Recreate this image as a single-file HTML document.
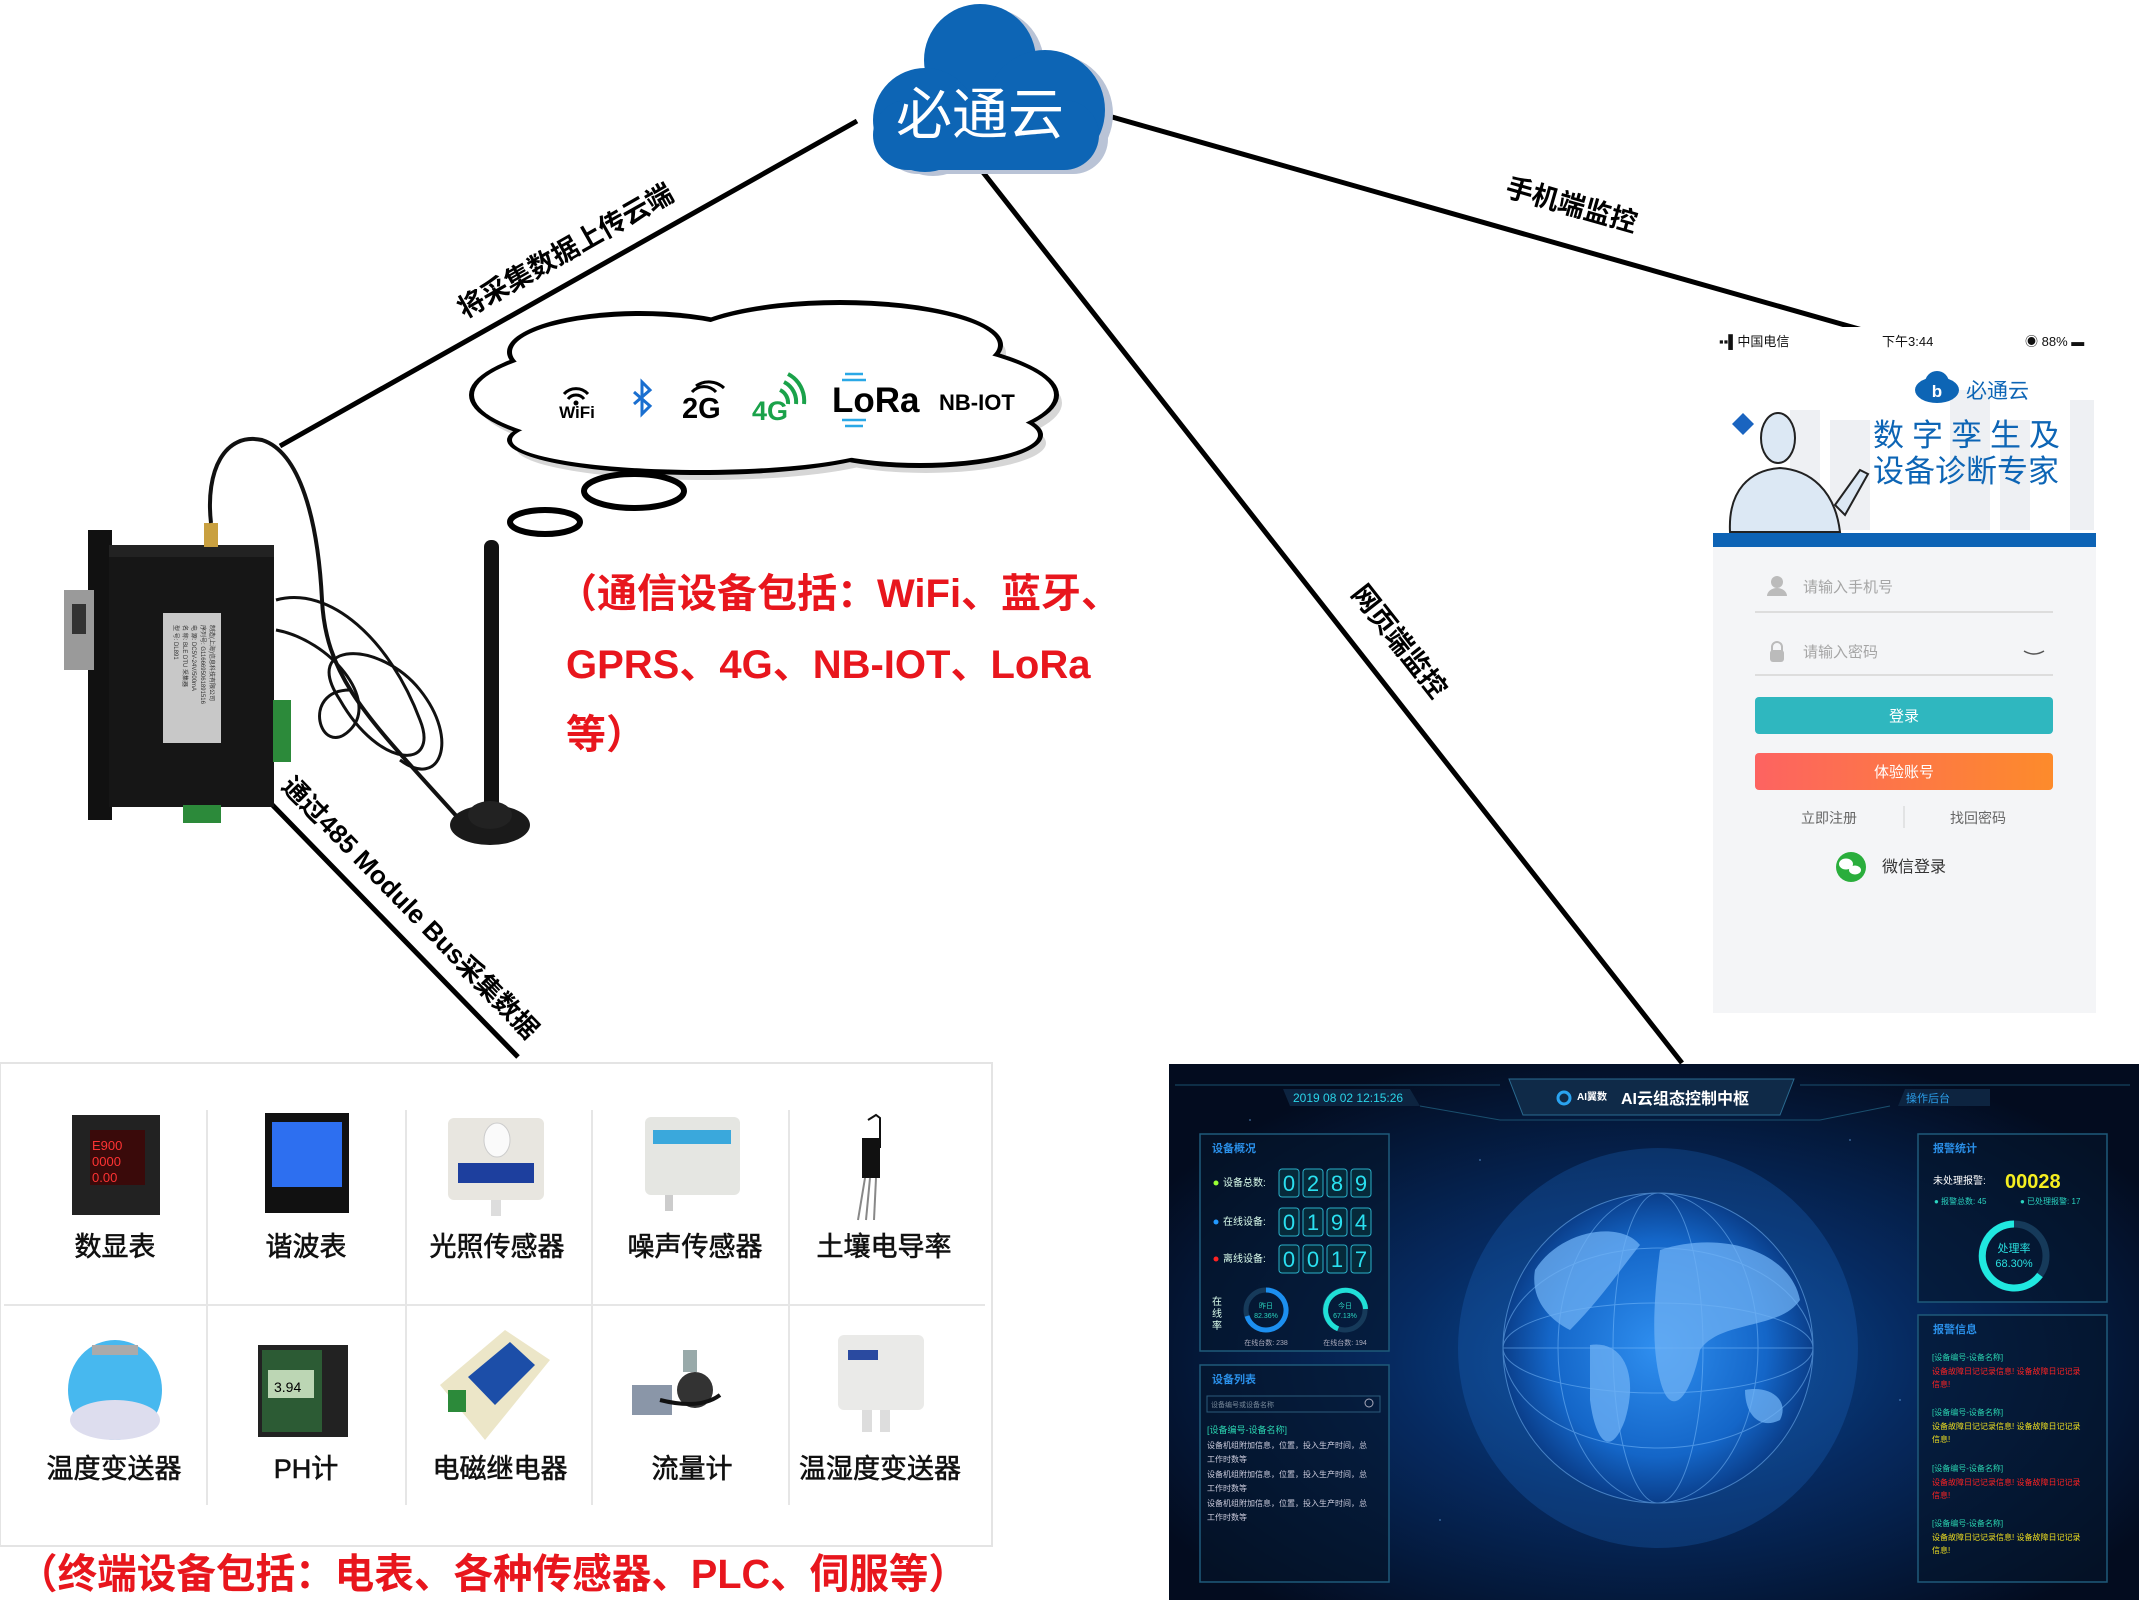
<!DOCTYPE html>
<html><head><meta charset="utf-8"><style>
html,body{margin:0;padding:0;background:#fff;}
svg{display:block;}
text{font-family:"Liberation Sans","Noto Sans CJK SC",sans-serif;}
</style></head><body>
<svg width="2139" height="1600" viewBox="0 0 2139 1600" xmlns="http://www.w3.org/2000/svg">
<defs>
<radialGradient id="glow" cx="50%" cy="55%" r="60%">
<stop offset="0" stop-color="#0a4f9e"/><stop offset="0.45" stop-color="#062a60"/><stop offset="1" stop-color="#030c1f"/>
</radialGradient>
<radialGradient id="globe" cx="50%" cy="50%" r="50%">
<stop offset="0" stop-color="#2f8ff0"/><stop offset="0.7" stop-color="#1466c8"/><stop offset="1" stop-color="#0a3e8a"/>
</radialGradient>
<linearGradient id="orange" x1="0" x2="1"><stop offset="0" stop-color="#fd6361"/><stop offset="1" stop-color="#fd8b2b"/></linearGradient>
</defs>

<g stroke="#000" stroke-width="5" fill="none">
<line x1="857" y1="121" x2="280" y2="446"/>
<line x1="1105" y1="115" x2="1873" y2="333"/>
<line x1="982" y1="171" x2="1682" y2="1063"/>
<line x1="252" y1="784" x2="518" y2="1057"/>
</g>

<g font-weight="bold" font-size="27" fill="#000">
<text transform="translate(570,259) rotate(-29.6)" text-anchor="middle">将采集数据上传云端</text>
<text transform="translate(1569,214) rotate(15.9)" text-anchor="middle">手机端监控</text>
<text transform="translate(1392,647) rotate(51.9)" text-anchor="middle">网页端监控</text>
<text transform="translate(404,914) rotate(45.7)" text-anchor="middle" font-size="26">通过485 Module Bus采集数据</text>
</g>

<g>
<g fill="#b9c3d6" transform="translate(8,4)">
<circle cx="980" cy="60" r="56"/><circle cx="925" cy="120" r="52"/><circle cx="1045" cy="110" r="60"/><rect x="875" y="100" width="225" height="70" rx="35"/>
</g>
<g fill="#0d65b5">
<circle cx="980" cy="60" r="56"/><circle cx="925" cy="120" r="52"/><circle cx="1045" cy="110" r="60"/><rect x="873" y="100" width="226" height="70" rx="35"/>
</g>
<text x="980" y="134" text-anchor="middle" font-size="56" fill="#fff">必通云</text>
</g>

<g transform="translate(6,8)" fill="#bbb" opacity="0.6">
<ellipse cx="764" cy="395" rx="292" ry="66"/><ellipse cx="640" cy="352" rx="130" ry="38"/><ellipse cx="840" cy="345" rx="160" ry="42"/><ellipse cx="700" cy="440" rx="190" ry="32"/><ellipse cx="920" cy="435" rx="120" ry="30"/>
</g>
<g fill="#000">
<ellipse cx="764" cy="395" rx="295" ry="69"/><ellipse cx="640" cy="352" rx="133" ry="41"/><ellipse cx="840" cy="345" rx="163" ry="45"/><ellipse cx="700" cy="440" rx="193" ry="35"/><ellipse cx="920" cy="435" rx="123" ry="33"/>
</g>
<g fill="#fff">
<ellipse cx="764" cy="395" rx="290" ry="64"/><ellipse cx="640" cy="352" rx="128" ry="36"/><ellipse cx="840" cy="345" rx="158" ry="40"/><ellipse cx="700" cy="440" rx="188" ry="30"/><ellipse cx="920" cy="435" rx="118" ry="28"/>
</g>
<ellipse cx="634" cy="491" rx="50" ry="17" fill="#fff" stroke="#000" stroke-width="6"/>
<ellipse cx="545" cy="522" rx="35" ry="12" fill="#fff" stroke="#000" stroke-width="6"/>

<g>
<path d="M564 394 a16 16 0 0 1 24 0 M568 399 a10 10 0 0 1 16 0" stroke="#000" stroke-width="3" fill="none"/>
<circle cx="576" cy="403" r="2.5"/>
<text x="577" y="418" text-anchor="middle" font-size="17" font-weight="bold">WiFi</text>
<path d="M634 392 L650 406 L642 414 L642 382 L650 390 L634 404" stroke="#1a6fd0" stroke-width="3" fill="none"/>
<text x="682" y="418" font-size="29" font-weight="bold">2G</text>
<path d="M692 392 a16 16 0 0 1 24 0 M696 386 a22 22 0 0 1 28 2" stroke="#000" stroke-width="3" fill="none"/>
<text x="752" y="420" font-size="27" font-weight="bold" fill="#1aa24a">4G</text>
<path d="M788 404 a14 14 0 0 0 -8 -14 M796 404 a22 22 0 0 0 -12 -22 M804 404 a30 30 0 0 0 -16 -30" stroke="#1aa24a" stroke-width="4" fill="none"/>
<text x="832" y="412" font-size="35" font-weight="bold">LoRa</text>
<path d="M845 374 h18 M842 380 h24 M842 420 h24 M845 426 h18" stroke="#2aa8e6" stroke-width="2.5"/>
<text x="939" y="410" font-size="22" font-weight="bold">NB-IOT</text>
</g>

<g fill="#e8161d" font-weight="bold" font-size="40">
<text x="557" y="607">（通信设备包括：WiFi、蓝牙、</text>
<text x="566" y="678">GPRS、4G、NB-IOT、LoRa</text>
<text x="566" y="748">等）</text>
</g>

<g>
<rect x="88" y="530" width="24" height="290" fill="#111"/>
<rect x="64" y="590" width="30" height="80" fill="#9a9a9a"/>
<rect x="72" y="604" width="14" height="30" fill="#333"/>
<rect x="109" y="552" width="165" height="255" fill="#161616"/>
<rect x="109" y="545" width="165" height="12" fill="#222"/>
<rect x="163" y="613" width="58" height="130" fill="#c8c8c8"/>
<g font-size="6" fill="#333"><text transform="translate(174,625) rotate(90)">型 号: DL891</text><text transform="translate(183,625) rotate(90)">名 称: BLE DTU 采集器</text><text transform="translate(192,625) rotate(90)">电 源: DC5V-24V/500mA</text><text transform="translate(201,625) rotate(90)">序列号: G1166695061891516</text><text transform="translate(210,625) rotate(90)">制造(上海)信息科技有限公司</text></g>
<rect x="273" y="700" width="18" height="62" fill="#2c8a3a"/>
<rect x="183" y="805" width="38" height="18" fill="#2c8a3a"/>
<rect x="204" y="523" width="14" height="24" fill="#c9a040"/>
<path d="M211 523 C205 470,225 432,262 440 C300 452,318 520,322 600 C326 680,370 720,460 820" stroke="#111" stroke-width="4" fill="none"/>
<path d="M276 600 C330 585,390 640,420 720 C440 770,380 770,340 700 C300 640,380 640,420 690 C460 740,440 790,400 760 M276 630 C330 640,380 700,350 730 C320 760,300 690,350 690" stroke="#111" stroke-width="3" fill="none"/>
<rect x="484" y="540" width="15" height="270" rx="7" fill="#111"/>
<ellipse cx="490" cy="825" rx="40" ry="20" fill="#1a1a1a"/>
<ellipse cx="490" cy="815" rx="22" ry="14" fill="#222"/>
</g>

<g>
<rect x="1713" y="327" width="383" height="686" fill="#f4f5f7"/>
<rect x="1713" y="327" width="383" height="208" fill="#fff"/>
<g fill="#eef0f3"><rect x="1790" y="410" width="30" height="120"/><rect x="1830" y="420" width="40" height="110"/><rect x="1950" y="390" width="40" height="140"/><rect x="2000" y="420" width="30" height="110"/><rect x="2070" y="400" width="24" height="130"/></g>
<rect x="1713" y="533" width="383" height="14" fill="#0d63b5"/>
<g font-size="13" fill="#111"><text x="1719" y="346">▪▪▌中国电信</text><text x="1882" y="346">下午3:44</text><text x="2025" y="346">◉ 88% ▬</text></g>
<path d="M1732 424 l11 -11 l11 11 l-11 11z" fill="#1a64c0"/>
<ellipse cx="1937" cy="390" rx="22" ry="13" fill="#0d65b5"/><circle cx="1937" cy="383" r="12" fill="#0d65b5"/>
<text x="1937" y="397" text-anchor="middle" font-size="17" font-weight="bold" fill="#fff">b</text>
<text x="1966" y="398" font-size="21" fill="#0d65b5">必通云</text>
<text x="1873" y="446" font-size="31" fill="#0d65b5" letter-spacing="8">数字孪生及</text>
<text x="1873" y="482" font-size="31" fill="#0d65b5">设备诊断专家</text>
<g fill="#dce8f4" stroke="#222" stroke-width="2">
<ellipse cx="1778" cy="438" rx="17" ry="25"/>
<path d="M1730 532 C1728 490,1750 470,1780 468 C1810 470,1835 490,1840 532 Z"/>
<path d="M1835 505 L1860 470 L1868 474 L1845 515 Z"/>
</g>
<line x1="1755" y1="612" x2="2053" y2="612" stroke="#ddd" stroke-width="2"/>
<line x1="1755" y1="675" x2="2053" y2="675" stroke="#ddd" stroke-width="2"/>
<circle cx="1777" cy="582" r="6" fill="#bbb"/><path d="M1767 596 a10 8 0 0 1 20 0z" fill="#bbb"/>
<rect x="1770" y="650" width="14" height="12" rx="3" fill="#bbb"/><path d="M1772 651 v-4 a5 5 0 0 1 10 0 v4" stroke="#bbb" stroke-width="2" fill="none"/>
<g font-size="15" fill="#a5a5a5"><text x="1803" y="592">请输入手机号</text><text x="1803" y="657">请输入密码</text></g>
<path d="M2024 651 q10 6 20 0" stroke="#555" stroke-width="1.5" fill="none"/>
<rect x="1755" y="697" width="298" height="37" rx="4" fill="#2fb7bf"/>
<text x="1904" y="721" text-anchor="middle" font-size="15" fill="#fff">登录</text>
<rect x="1755" y="753" width="298" height="37" rx="4" fill="url(#orange)"/>
<text x="1904" y="777" text-anchor="middle" font-size="15" fill="#fff">体验账号</text>
<g font-size="14" fill="#666"><text x="1829" y="823" text-anchor="middle">立即注册</text><text x="1978" y="823" text-anchor="middle">找回密码</text></g>
<line x1="1904" y1="806" x2="1904" y2="828" stroke="#ddd" stroke-width="1.5"/>
<circle cx="1851" cy="867" r="15" fill="#2aae3c"/>
<ellipse cx="1846" cy="864" rx="7" ry="5.5" fill="#fff"/><ellipse cx="1855" cy="870" rx="6" ry="4.5" fill="#fff"/>
<text x="1882" y="872" font-size="16" fill="#333">微信登录</text>
</g>

<g>
<rect x="0" y="1063" width="992" height="483" fill="#fff" stroke="#e4e4e4" stroke-width="2"/>
<g stroke="#e6e6e6" stroke-width="2"><line x1="207" y1="1110" x2="207" y2="1505"/><line x1="406" y1="1110" x2="406" y2="1505"/><line x1="592" y1="1110" x2="592" y2="1505"/><line x1="789" y1="1110" x2="789" y2="1505"/><line x1="4" y1="1305" x2="985" y2="1305"/></g>
<rect x="72" y="1115" width="88" height="100" fill="#222"/><rect x="90" y="1130" width="55" height="55" fill="#3a0a0a"/><text x="92" y="1150" font-size="13" fill="#f33">E900</text><text x="92" y="1166" font-size="13" fill="#f33">0000</text><text x="92" y="1182" font-size="13" fill="#f33">0.00</text>
<rect x="265" y="1113" width="84" height="100" fill="#111"/><rect x="272" y="1122" width="70" height="65" fill="#2d6ff0"/>
<rect x="448" y="1118" width="96" height="82" rx="6" fill="#e8e6e0"/><ellipse cx="497" cy="1140" rx="13" ry="17" fill="#fafafa" stroke="#ccc"/><rect x="458" y="1163" width="76" height="20" fill="#1d3f9e"/><rect x="491" y="1200" width="10" height="16" fill="#ddd"/>
<rect x="645" y="1117" width="95" height="78" rx="6" fill="#e5e6e2"/><rect x="653" y="1130" width="78" height="14" fill="#3aa8dc"/><rect x="665" y="1195" width="8" height="16" fill="#ccc"/>
<path d="M868 1120 l8 -5 l4 3 v30" stroke="#111" stroke-width="2" fill="none"/><rect x="862" y="1138" width="18" height="40" fill="#111"/><g stroke="#888" stroke-width="2"><line x1="865" y1="1178" x2="858" y2="1220"/><line x1="870" y1="1178" x2="866" y2="1220"/><line x1="876" y1="1178" x2="874" y2="1220"/></g>
<ellipse cx="115" cy="1390" rx="47" ry="50" fill="#47b8ef"/><ellipse cx="115" cy="1420" rx="45" ry="20" fill="#dde"/><rect x="92" y="1345" width="46" height="10" fill="#aaa"/>
<rect x="258" y="1345" width="90" height="92" fill="#222"/><rect x="262" y="1350" width="60" height="82" fill="#2c5b34"/><rect x="268" y="1370" width="46" height="28" fill="#bcd6b4"/><text x="274" y="1392" font-size="14">3.94</text>
<path d="M440 1385 L505 1330 L550 1360 L485 1440 Z" fill="#ece6c8"/><path d="M468 1377 L510 1342 L535 1365 L495 1405 Z" fill="#1c4ea8"/><rect x="448" y="1390" width="18" height="22" fill="#2c8a3a"/>
<rect x="632" y="1385" width="40" height="30" fill="#8a96a8"/><circle cx="695" cy="1390" r="18" fill="#333"/><path d="M660 1400 q40 10 60 -5" stroke="#111" stroke-width="4" fill="none"/><rect x="683" y="1350" width="14" height="22" fill="#9aa"/>
<rect x="838" y="1335" width="86" height="75" rx="6" fill="#eaeae8"/><rect x="848" y="1350" width="30" height="10" fill="#2a4aa0"/><rect x="862" y="1410" width="10" height="22" fill="#ddd"/><rect x="880" y="1410" width="10" height="22" fill="#ddd"/>
<g font-size="27" fill="#111" text-anchor="middle" stroke="#111" stroke-width="0.6">
<text x="115" y="1256">数显表</text><text x="306" y="1256">谐波表</text><text x="497" y="1256">光照传感器</text><text x="695" y="1256">噪声传感器</text><text x="884" y="1256">土壤电导率</text>
<text x="114" y="1478">温度变送器</text><text x="306" y="1478">PH计</text><text x="500" y="1478">电磁继电器</text><text x="692" y="1478">流量计</text><text x="880" y="1478">温湿度变送器</text>
</g>
<text x="18" y="1588" font-size="41" font-weight="bold" fill="#e8161d" textLength="950" lengthAdjust="spacingAndGlyphs">（终端设备包括：电表、各种传感器、PLC、伺服等）</text>
</g>

<g>
<rect x="1169" y="1064" width="970" height="536" fill="url(#glow)"/>
<g fill="#6aa8e8" opacity="0.5"><circle cx="1250" cy="1120" r="1"/><circle cx="1480" cy="1160" r="1"/><circle cx="1850" cy="1140" r="1"/><circle cx="1900" cy="1400" r="1"/><circle cx="1440" cy="1520" r="1"/><circle cx="1560" cy="1110" r="1"/></g>
<ellipse cx="1658" cy="1348" rx="200" ry="200" fill="#1e6fd0" opacity="0.25"/>
<circle cx="1658" cy="1348" r="155" fill="url(#globe)"/>
<g stroke="#7fc0ff" stroke-width="1" fill="none" opacity="0.5">
<ellipse cx="1658" cy="1348" rx="155" ry="155"/><ellipse cx="1658" cy="1348" rx="100" ry="155"/><ellipse cx="1658" cy="1348" rx="45" ry="155"/>
<ellipse cx="1658" cy="1348" rx="155" ry="100"/><ellipse cx="1658" cy="1348" rx="155" ry="45"/><line x1="1503" y1="1348" x2="1813" y2="1348"/>
</g>
<g fill="#6fb2f5" opacity="0.75">
<path d="M1535 1270 C1560 1230,1620 1220,1640 1245 C1620 1270,1600 1300,1570 1330 C1550 1320,1530 1300,1535 1270Z"/>
<path d="M1590 1345 C1620 1340,1640 1370,1625 1420 C1610 1460,1595 1440,1590 1400Z"/>
<path d="M1660 1250 C1720 1230,1790 1250,1800 1300 C1780 1330,1720 1320,1700 1350 C1690 1400,1670 1420,1660 1380 C1650 1340,1655 1290,1660 1250Z"/>
<path d="M1745 1390 C1770 1385,1790 1400,1780 1420 C1760 1430,1745 1415,1745 1390Z"/>
</g>
<path d="M1509 1079 L1794 1079 L1780 1115 L1523 1115 Z" fill="#0f2a48" stroke="#2a6a90"/>
<circle cx="1564" cy="1098" r="6" fill="none" stroke="#2aa3f0" stroke-width="3"/>
<text x="1577" y="1100" font-size="10" font-weight="bold" fill="#fff">AI翼数</text>
<text x="1621" y="1104" font-size="16" font-weight="bold" fill="#fff">AI云组态控制中枢</text>
<path d="M1283 1089 L1410 1089 L1420 1106 L1290 1106 Z" fill="#0d2440"/>
<text x="1293" y="1102" font-size="12" fill="#2ad4e8">2019 08 02   12:15:26</text>
<path d="M1905 1089 L1990 1089 L1990 1106 L1898 1106 Z" fill="#0d2440"/>
<text x="1906" y="1102" font-size="11" fill="#2a9de8">操作后台</text>
<g stroke="#1a4f6e" fill="none"><path d="M1420 1106 L1500 1120 L1820 1120 L1890 1106"/><line x1="1175" y1="1085" x2="1500" y2="1085"/><line x1="1800" y1="1085" x2="2130" y2="1085"/></g>
<g fill="#05152c" fill-opacity="0.6" stroke="#1e5a7a" stroke-width="1.5">
<rect x="1200" y="1134" width="189" height="217"/><rect x="1200" y="1365" width="189" height="217"/>
<rect x="1918" y="1134" width="189" height="168"/><rect x="1918" y="1315" width="189" height="267"/>
</g>
<g font-size="11" fill="#2a8fe8" font-weight="bold">
<text x="1212" y="1152">设备概况</text><text x="1212" y="1383">设备列表</text><text x="1933" y="1152">报警统计</text><text x="1933" y="1333">报警信息</text>
</g>
<g font-size="10" fill="#dfe">
<text x="1223" y="1186">设备总数:</text><text x="1223" y="1225">在线设备:</text><text x="1223" y="1262">离线设备:</text>
</g>
<circle cx="1216" cy="1183" r="2.5" fill="#9f3"/><circle cx="1216" cy="1222" r="2.5" fill="#29f"/><circle cx="1216" cy="1259" r="2.5" fill="#f22"/>
<g fill="#062a3a" stroke="#2ab0c8" stroke-width="1">
<rect x="1279" y="1169" width="20" height="28" rx="3"/><rect x="1303" y="1169" width="20" height="28" rx="3"/><rect x="1327" y="1169" width="20" height="28" rx="3"/><rect x="1351" y="1169" width="20" height="28" rx="3"/>
<rect x="1279" y="1208" width="20" height="28" rx="3"/><rect x="1303" y="1208" width="20" height="28" rx="3"/><rect x="1327" y="1208" width="20" height="28" rx="3"/><rect x="1351" y="1208" width="20" height="28" rx="3"/>
<rect x="1279" y="1245" width="20" height="28" rx="3"/><rect x="1303" y="1245" width="20" height="28" rx="3"/><rect x="1327" y="1245" width="20" height="28" rx="3"/><rect x="1351" y="1245" width="20" height="28" rx="3"/>
</g>
<g font-family="Liberation Mono" font-size="22" fill="#2ae0f0" text-anchor="middle">
<text x="1289" y="1191">0</text><text x="1313" y="1191">2</text><text x="1337" y="1191">8</text><text x="1361" y="1191">9</text>
<text x="1289" y="1230">0</text><text x="1313" y="1230">1</text><text x="1337" y="1230">9</text><text x="1361" y="1230">4</text>
<text x="1289" y="1267">0</text><text x="1313" y="1267">0</text><text x="1337" y="1267">1</text><text x="1361" y="1267">7</text>
</g>
<g font-size="10" fill="#dfe"><text x="1212" y="1305">在</text><text x="1212" y="1317">线</text><text x="1212" y="1329">率</text></g>
<circle cx="1266" cy="1310" r="20" fill="none" stroke="#163a5a" stroke-width="5"/>
<path d="M1266 1290 A20 20 0 1 1 1247 1316" fill="none" stroke="#1c8ff0" stroke-width="5"/>
<circle cx="1345" cy="1310" r="20" fill="none" stroke="#163a5a" stroke-width="5"/>
<path d="M1345 1290 A20 20 0 1 1 1326 1318" fill="none" stroke="#20e0d8" stroke-width="5" transform="rotate(200 1345 1310)"/>
<g font-size="7" fill="#2ad4c0" text-anchor="middle"><text x="1266" y="1308">昨日</text><text x="1266" y="1318">82.36%</text><text x="1345" y="1308">今日</text><text x="1345" y="1318">67.13%</text></g>
<g font-size="7" fill="#aab" text-anchor="middle"><text x="1266" y="1345">在线台数: 238</text><text x="1345" y="1345">在线台数: 194</text></g>
<rect x="1207" y="1396" width="173" height="16" fill="none" stroke="#2a5a7a"/>
<text x="1211" y="1407" font-size="7" fill="#789">设备编号或设备名称</text>
<circle cx="1369" cy="1403" r="4" fill="none" stroke="#aab"/>
<text x="1207" y="1433" font-size="9" fill="#2ad4b0">[设备编号-设备名称]</text>
<g font-size="8" fill="#ccd"><text x="1207" y="1448">设备机组附加信息，位置，投入生产时间，总</text><text x="1207" y="1462">工作时数等</text><text x="1207" y="1477">设备机组附加信息，位置，投入生产时间，总</text><text x="1207" y="1491">工作时数等</text><text x="1207" y="1506">设备机组附加信息，位置，投入生产时间，总</text><text x="1207" y="1520">工作时数等</text></g>
<text x="1933" y="1184" font-size="10" fill="#fff">未处理报警:</text>
<text x="2005" y="1188" font-family="Liberation Mono" font-size="20" font-weight="bold" fill="#f5ee20">00028</text>
<g font-size="8" fill="#2ad4c0"><text x="1934" y="1204">● 报警总数: 45</text><text x="2020" y="1204">● 已处理报警: 17</text></g>
<circle cx="2014" cy="1256" r="32" fill="none" stroke="#163a5a" stroke-width="7"/>
<path d="M2014 1224 A32 32 0 1 0 2040 1275" fill="none" stroke="#20e8e0" stroke-width="7"/>
<g fill="#2ae0e0" text-anchor="middle"><text x="2014" y="1252" font-size="11">处理率</text><text x="2014" y="1267" font-size="11">68.30%</text></g>
<g font-size="8">
<text x="1932" y="1360" fill="#2ad4b0">[设备编号-设备名称]</text><text x="1932" y="1374" fill="#f22">设备故障日记记录信息! 设备故障日记记录</text><text x="1932" y="1387" fill="#f22">信息!</text>
<text x="1932" y="1415" fill="#2ad4b0">[设备编号-设备名称]</text><text x="1932" y="1429" fill="#f0e020">设备故障日记记录信息! 设备故障日记记录</text><text x="1932" y="1442" fill="#f0e020">信息!</text>
<text x="1932" y="1471" fill="#2ad4b0">[设备编号-设备名称]</text><text x="1932" y="1485" fill="#f22">设备故障日记记录信息! 设备故障日记记录</text><text x="1932" y="1498" fill="#f22">信息!</text>
<text x="1932" y="1526" fill="#2ad4b0">[设备编号-设备名称]</text><text x="1932" y="1540" fill="#f0e020">设备故障日记记录信息! 设备故障日记记录</text><text x="1932" y="1553" fill="#f0e020">信息!</text>
</g>
</g>
</svg>
</body></html>
